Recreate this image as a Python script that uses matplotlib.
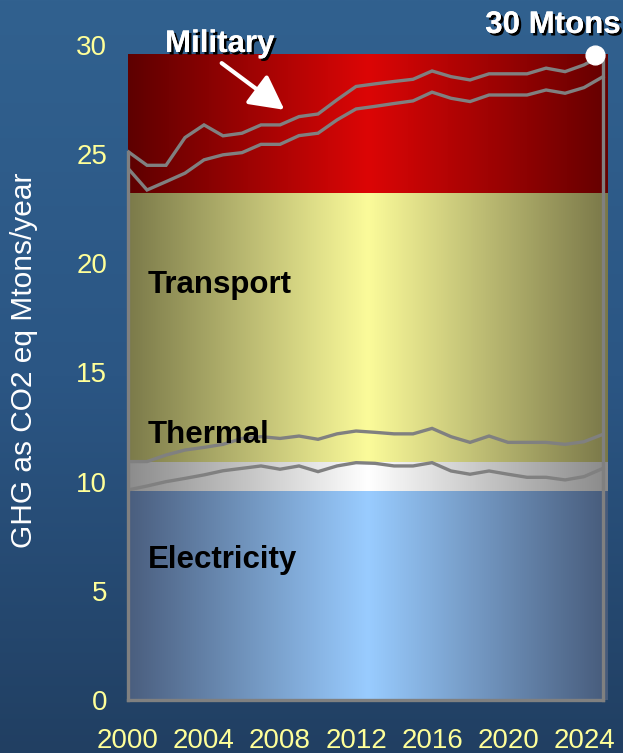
import numpy as np
import matplotlib
matplotlib.use("Agg")
import matplotlib.pyplot as plt
import matplotlib.patheffects as pe
from matplotlib.colors import LinearSegmentedColormap
from matplotlib.transforms import ScaledTranslation

plt.rcParams["font.family"] = ["Liberation Sans", "DejaVu Sans"]

# Annual emissions by sector, Mtons CO2-eq per year (stacked in this order)
years = np.arange(2000, 2026)
electricity = [9.62, 9.80, 10.00, 10.15, 10.31, 10.50, 10.61, 10.72, 10.57, 10.72,
               10.46, 10.72, 10.87, 10.84, 10.72, 10.72, 10.87, 10.49, 10.34, 10.49,
               10.34, 10.20, 10.20, 10.08, 10.23, 10.61]
thermal = [1.30, 1.12, 1.22, 1.30, 1.26, 1.21, 1.37, 1.34, 1.41, 1.37,
           1.48, 1.47, 1.45, 1.42, 1.47, 1.47, 1.57, 1.57, 1.46, 1.60,
           1.46, 1.60, 1.60, 1.63, 1.60, 1.56]
transport = [13.43, 12.44, 12.52, 12.68, 13.17, 13.26, 13.09, 13.39, 13.47, 13.76,
             14.02, 14.38, 14.75, 14.93, 15.13, 15.25, 15.40, 15.50, 15.61, 15.62,
             15.91, 15.91, 16.14, 16.08, 16.22, 16.38]
military = [0.77, 1.13, 0.75, 1.63, 1.60, 0.87, 0.89, 0.89, 0.89, 0.87,
            0.88, 0.92, 1.03, 1.03, 1.01, 0.99, 0.97, 0.99, 0.99, 0.97,
            0.97, 0.97, 1.00, 0.99, 1.04, 1.00]
sector_names = ["Electricity", "Thermal", "Transport", "Military"]

# Upper edge of each shaded sector band
band_tops = [9.55, 10.9, 23.2, 29.55]

y_ticks = [0, 5, 10, 15, 20, 25, 30]
x_ticks = [2000, 2004, 2008, 2012, 2016, 2020, 2024]

stack = np.cumsum([electricity, thermal, transport, military], axis=0)
total = stack[-1]

W, H, DPI = 623, 753, 100
fig = plt.figure(figsize=(W / DPI, H / DPI), dpi=DPI)

# Slide background: vertical blue gradient
bg = fig.add_axes([0, 0, 1, 1], zorder=-10)
grad = np.linspace(0, 1, 256)[:, None]
bg_cmap = LinearSegmentedColormap.from_list("bg", ["#31618f", "#2b5684", "#213f62"])
bg.imshow(grad, aspect="auto", cmap=bg_cmap, extent=[0, 1, 0, 1], origin="upper")
bg.set_axis_off()

ax = fig.add_axes([128 / W, 53 / H, 480 / W, 655 / H])
ax.set_facecolor("none")
x_right = 2025.26
ax.set_xlim(2000, x_right)
ax.set_ylim(0, 30)

band_colors = [
    ["#4a5e7e", "#99ccff", "#475b7b"],
    ["#8c8c8c", "#ffffff", "#8a8a8a"],
    ["#7b7a4a", "#fbfb9a", "#7a7849"],
    ["#5e0000", "#dc0606", "#650000"],
]
hgrad = np.linspace(0, 1, 512)[None, :]
lower = 0
for top, cols, name in zip(band_tops, band_colors, sector_names):
    cmap = LinearSegmentedColormap.from_list(name, cols)
    ax.imshow(hgrad, aspect="auto", cmap=cmap, extent=[2000, x_right, lower, top],
              zorder=1, interpolation="bilinear")
    lower = top

line_kw = dict(color="#808080", lw=2.4, zorder=3, solid_joinstyle="miter")
for layer in stack:
    ax.plot(years, layer, **line_kw)
ax.plot([years[0], years[0]], [0, total[0]], clip_on=False, **line_kw)
ax.plot([years[-1], years[-1]], [0, total[-1]], clip_on=False, **line_kw)
ax.plot([years[0], years[-1]], [0, 0], clip_on=False, **line_kw)

# Marker on the latest total
dot_tr = ax.transData + ScaledTranslation(-8 / DPI, 0, fig.dpi_scale_trans)
ax.plot(years[-1], total[-1], "o", ms=13.5, color="white", mec="white",
        transform=dot_tr, clip_on=False, zorder=6)

shadow = [pe.withSimplePatchShadow(offset=(1.8, -1.8), shadow_rgbFace="black", alpha=1.0),
          pe.Normal()]
ax.text(2018.8, 30.55, f"{total[-1]:.0f} Mtons", color="white", fontsize=22.5,
        fontweight="bold", ha="left", va="baseline", path_effects=shadow,
        clip_on=False, zorder=7)
ax.text(2001.95, 29.68, sector_names[3], color="white", fontsize=22.5,
        fontweight="bold", ha="left", va="baseline", path_effects=shadow,
        clip_on=False, zorder=7)
ax.annotate("", xy=(2008.23, 27.03), xytext=(2004.93, 29.17),
            arrowprops=dict(arrowstyle="-|>,head_length=0.95,head_width=0.5",
                            color="white", lw=3.0, mutation_scale=22,
                            shrinkA=0, shrinkB=0),
            annotation_clip=False, zorder=7)

ax.text(2001.05, 18.64, sector_names[2], color="black", fontsize=22.5,
        fontweight="bold", ha="left", va="baseline", zorder=5)
ax.text(2001.05, 11.77, sector_names[1], color="black", fontsize=22.5,
        fontweight="bold", ha="left", va="baseline", zorder=5)
ax.text(2001.05, 6.05, sector_names[0], color="black", fontsize=22.5,
        fontweight="bold", ha="left", va="baseline", zorder=5)

ax.set_yticks(y_ticks)
ax.set_xticks(x_ticks)
ax.set_xticklabels([str(t) for t in x_ticks])
ax.tick_params(axis="y", length=0, pad=15, labelsize=20, labelcolor="#ffff99")
ax.tick_params(axis="x", length=0, pad=20, labelsize=20, labelcolor="#ffff99")
for s in ax.spines.values():
    s.set_visible(False)

fig.text(24 / W, 1 - 360 / H, "GHG as CO2 eq Mtons/year", rotation=90,
         color="white", fontsize=21.5, ha="center", va="center")

fig.savefig("out.png", dpi=DPI)
